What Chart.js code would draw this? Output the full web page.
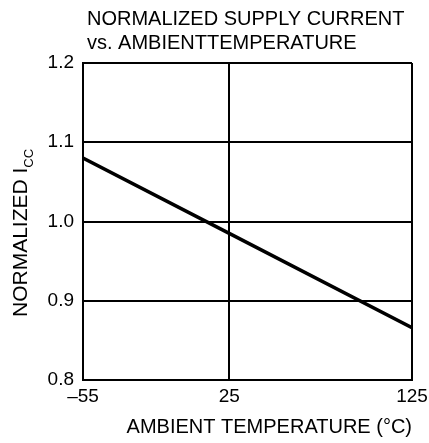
<!DOCTYPE html>
<html>
<head>
<meta charset="utf-8">
<script src="https://cdn.jsdelivr.net/npm/chart.js@4/dist/chart.umd.min.js"></script>
<style>
  html, body { margin: 0; padding: 0; background: #fff; }
</style>
</head>
<body>
<canvas id="chart" width="429" height="443"></canvas>
<script>
// Data
const temps = [-55, 25, 125];
const iccNorm = [1.08, 0.985, 0.866];
const xTicks = [-55, 25, 125];
const xTickLabels = ['\u201355', '25', '125'];
const yTicks = [0.8, 0.9, 1.0, 1.1, 1.2];
const titleLines = ['NORMALIZED SUPPLY CURRENT', 'vs. AMBIENTTEMPERATURE'];
const xTitle = 'AMBIENT TEMPERATURE (\u00B0C)';
const yTitleMain = 'NORMALIZED I';
const yTitleSub = 'CC';

const FONT = '"Liberation Sans", Arial, Helvetica, sans-serif';

// Title and y axis title (with subscript) drawn on the canvas
const textPlugin = {
  id: 'textPlugin',
  afterDraw(chart) {
    const ctx = chart.ctx;
    ctx.save();
    ctx.fillStyle = '#000';
    ctx.textAlign = 'left';
    ctx.textBaseline = 'alphabetic';
    ctx.font = '20px ' + FONT;
    ctx.fillText(titleLines[0], 87, 25);
    ctx.fillText(titleLines[1], 87, 49);

    ctx.translate(27, 317);
    ctx.rotate(-Math.PI / 2);
    ctx.font = '21px ' + FONT;
    ctx.fillText(yTitleMain, 0, 0);
    const w = ctx.measureText(yTitleMain).width;
    ctx.font = '13px ' + FONT;
    ctx.fillText(yTitleSub, w, 6);
    ctx.restore();
  }
};

const ctx = document.getElementById('chart');
new Chart(ctx, {
  type: 'line',
  data: {
    datasets: [{
      data: temps.map((t, i) => ({ x: t, y: iccNorm[i] })),
      borderColor: '#000',
      borderWidth: 3.5,
      pointRadius: 0,
      fill: false,
      tension: 0
    }]
  },
  options: {
    responsive: false,
    animation: false,
    layout: { padding: { top: 63, right: 17, left: 0, bottom: 0 } },
    plugins: {
      legend: { display: false },
      tooltip: { enabled: false }
    },
    scales: {
      x: {
        type: 'linear',
        min: -55,
        max: 125,
        afterBuildTicks: s => { s.ticks = xTicks.map(v => ({ value: v })); },
        afterFit: s => { s.height = 63; s.paddingLeft = 0; s.paddingRight = 0; },
        grid: { color: '#000', lineWidth: 2, drawTicks: false },
        border: { display: true, color: '#000', width: 2 },
        ticks: {
          color: '#000',
          font: { family: FONT, size: 19 },
          padding: 5,
          maxRotation: 0,
          autoSkip: false,
          callback: v => xTickLabels[xTicks.indexOf(v)]
        },
        title: {
          display: true,
          text: xTitle,
          align: 'end',
          color: '#000',
          font: { family: FONT, size: 20 },
          padding: { top: 0, bottom: 4 }
        }
      },
      y: {
        min: 0.8,
        max: 1.2,
        afterBuildTicks: s => { s.ticks = yTicks.map(v => ({ value: v })); },
        afterFit: s => { s.width = 83; },
        grid: { color: '#000', lineWidth: 2, drawTicks: false },
        border: { display: true, color: '#000', width: 2 },
        ticks: {
          color: '#000',
          font: { family: FONT, size: 19 },
          padding: 9,
          callback: v => v.toFixed(1)
        }
      }
    }
  },
  plugins: [textPlugin]
});
</script>
</body>
</html>
